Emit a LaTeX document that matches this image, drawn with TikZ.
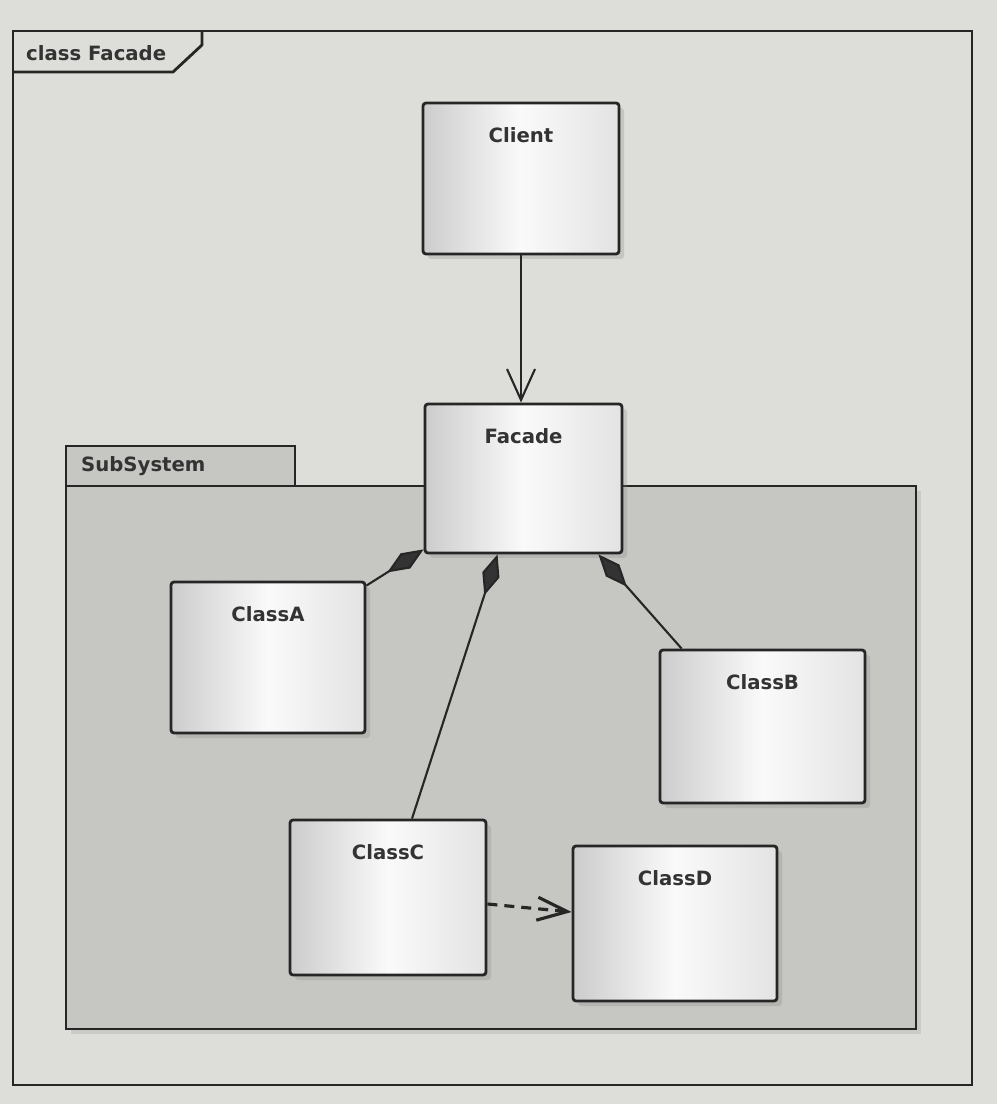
\documentclass[tikz,border=0pt]{standalone}
\usepackage{fontspec}
\setmainfont{DejaVu Sans}
\usetikzlibrary{arrows.meta,shadows}
\definecolor{paper}{RGB}{221,221,217}
\definecolor{pkggray}{RGB}{198,198,194}

\begin{document}
\begin{tikzpicture}[font = \fontsize{5.6}{6.7}\selectfont\bfseries, text = black!80,
        classbox/.style = {draw = black!85, line width = 0.8pt, rounded corners = 0.3mm, inner sep = 0pt,
            left color = gray!40, right color = gray!22, middle color = gray!4,
            drop shadow = {shadow xshift = 0.5mm, shadow yshift = -0.5mm, opacity = 0.25}},
        classname/.style = {inner sep = 1pt},
        assoc/.style = {line width = 0.6pt, draw = black!85, -{Straight Barb[length = 3.1mm, width = 2.8mm]}},
        compose/.style = {line width = 0.6pt, draw = black!85, {Diamond[length = 4.3mm, width = 1.8mm, fill = black!80]}-},
        depend/.style = {line width = 0.9pt, draw = black!85, dash pattern = on 1mm off 0.7mm, -{Straight Barb[length = 3mm, width = 2.3mm]}}]
        \useasboundingbox (0,0) rectangle (9.97,-11.04);
        \fill[paper] (0,0) rectangle (9.97,-11.04);
        
        \draw[line width = 0.8pt, black!85] (0.13,-0.31) rectangle (9.72,-10.85);
        \draw[line width = 0.8pt, black!85] (0.13,-0.72) -- (1.73,-0.72) -- (2.02,-0.45) -- (2.02,-0.31);
        \node[classname, anchor = west] (framename) at (0.22,-0.53) {class Facade};
        
        \draw[line width = 0.8pt, black!85, fill = pkggray] (0.66,-4.46) rectangle (2.95,-4.86);
        \draw[line width = 0.8pt, black!85, fill = pkggray, drop shadow = {shadow xshift = 0.5mm, shadow yshift = -0.5mm, opacity = 0.2}] (0.66,-4.86) rectangle (9.16,-10.29);
        \node[classname, anchor = west] (pkgname) at (0.77,-4.66) {SubSystem};
        
        \node[classbox, minimum width = 1.96cm, minimum height = 1.51cm] (client) at (5.21,-1.785) {};
        \node[classbox, minimum width = 1.97cm, minimum height = 1.49cm] (facade) at (5.235,-4.785) {};
        \node[classbox, minimum width = 1.94cm, minimum height = 1.51cm] (classA) at (2.68,-6.575) {};
        \node[classbox, minimum width = 2.05cm, minimum height = 1.53cm] (classB) at (7.625,-7.265) {};
        \node[classbox, minimum width = 1.96cm, minimum height = 1.55cm] (classC) at (3.88,-8.975) {};
        \node[classbox, minimum width = 2.04cm, minimum height = 1.55cm] (classD) at (6.75,-9.235) {};
        
        \node[classname] (clientname) at ([yshift = -0.34cm]client.north) {Client};
        \node[classname] (facadename) at ([yshift = -0.34cm]facade.north) {Facade};
        \node[classname] (classAname) at ([yshift = -0.34cm]classA.north) {ClassA};
        \node[classname] (classBname) at ([yshift = -0.34cm]classB.north) {ClassB};
        \node[classname] (classCname) at ([yshift = -0.34cm]classC.north) {ClassC};
        \node[classname] (classDname) at ([yshift = -0.34cm]classD.north) {ClassD};
        
        \draw[assoc] (client.south) -- (client.south |- facade.north);
        \draw[compose] ([yshift = 0.05cm]facade.south west) -- ([yshift = -0.05cm]classA.north east);
        \draw[compose] ([xshift = -0.26cm]facade.south) -- ([xshift = 0.24cm]classC.north);
        \draw[compose] ([xshift = -0.25cm]facade.south east) -- ([xshift = 0.23cm]classB.north west);
        \draw[depend] ([yshift = -0.065cm]classC.east) -- ([yshift = 0.115cm]classD.west);
\end{tikzpicture}
\end{document}
